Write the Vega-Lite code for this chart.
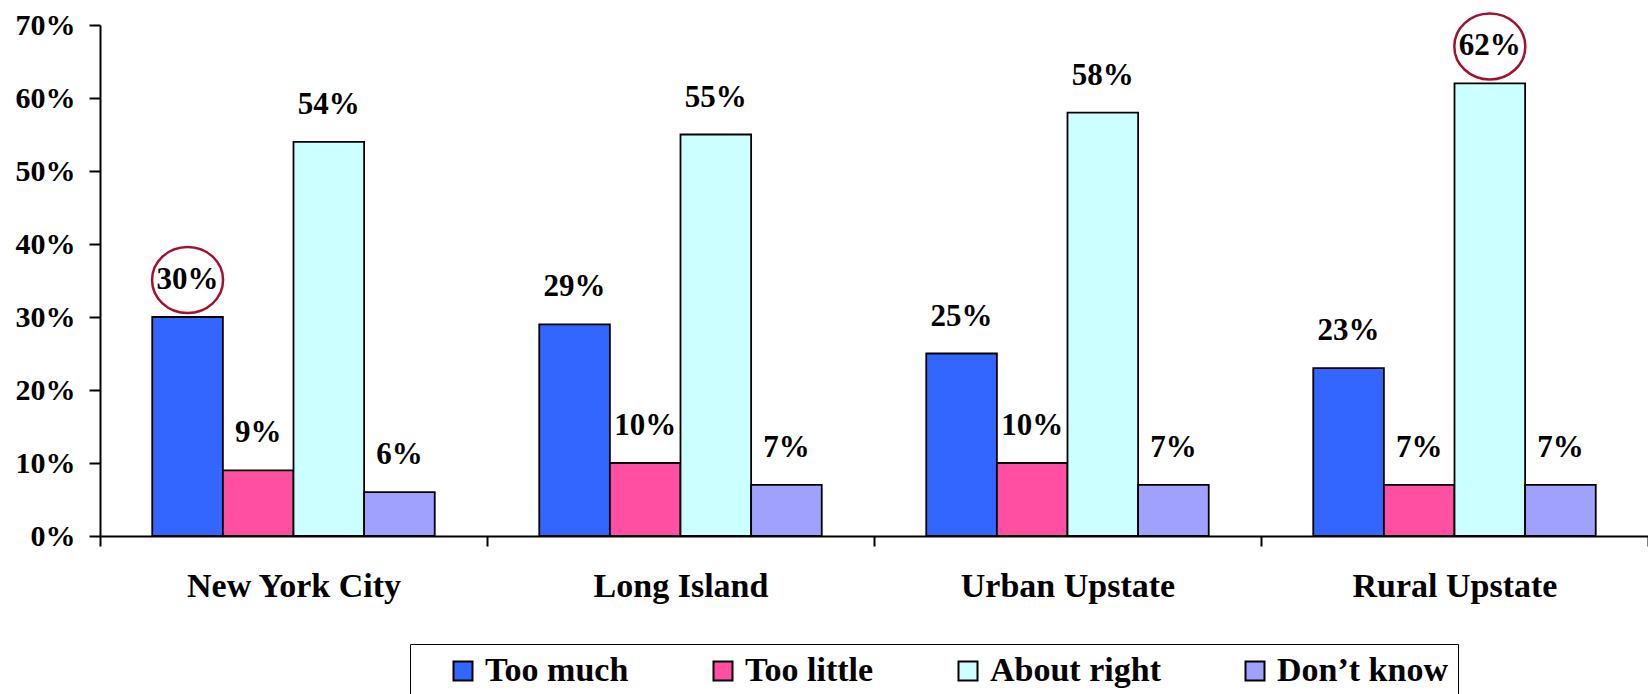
{
  "$schema": "https://vega.github.io/schema/vega-lite/v6.json",
  "width": 1548,
  "height": 511,
  "autosize": {"type": "none"},
  "padding": {"left": 100, "top": 25, "right": 0, "bottom": 158},
  "background": "white",
  "config": {"view": {"stroke": null}, "font": "Liberation Serif"},
  "data": {
    "values": [
      {"region": "New York City", "response": "Too much", "pct": 0.30, "highlight": true},
      {"region": "New York City", "response": "Too little", "pct": 0.09, "highlight": false},
      {"region": "New York City", "response": "About right", "pct": 0.54, "highlight": false},
      {"region": "New York City", "response": "Don’t know", "pct": 0.06, "highlight": false},
      {"region": "Long Island", "response": "Too much", "pct": 0.29, "highlight": false},
      {"region": "Long Island", "response": "Too little", "pct": 0.10, "highlight": false},
      {"region": "Long Island", "response": "About right", "pct": 0.55, "highlight": false},
      {"region": "Long Island", "response": "Don’t know", "pct": 0.07, "highlight": false},
      {"region": "Urban Upstate", "response": "Too much", "pct": 0.25, "highlight": false},
      {"region": "Urban Upstate", "response": "Too little", "pct": 0.10, "highlight": false},
      {"region": "Urban Upstate", "response": "About right", "pct": 0.58, "highlight": false},
      {"region": "Urban Upstate", "response": "Don’t know", "pct": 0.07, "highlight": false},
      {"region": "Rural Upstate", "response": "Too much", "pct": 0.23, "highlight": false},
      {"region": "Rural Upstate", "response": "Too little", "pct": 0.07, "highlight": false},
      {"region": "Rural Upstate", "response": "About right", "pct": 0.62, "highlight": true},
      {"region": "Rural Upstate", "response": "Don’t know", "pct": 0.07, "highlight": false}
    ]
  },
  "encoding": {
    "x": {
      "field": "region",
      "type": "nominal",
      "sort": ["New York City", "Long Island", "Urban Upstate", "Rural Upstate"],
      "scale": {"paddingInner": 0, "paddingOuter": 0},
      "axis": {
        "title": null,
        "labelAngle": 0,
        "labelFont": "Liberation Serif",
        "labelFontSize": 34,
        "labelFontWeight": "bold",
        "labelColor": "black",
        "labelPadding": 23,
        "labelLimit": 500,
        "tickBand": "extent",
        "tickSize": 10,
        "tickWidth": 2,
        "tickColor": "black",
        "domainColor": "black",
        "domainWidth": 2
      }
    },
    "xOffset": {
      "field": "response",
      "type": "nominal",
      "sort": ["Too much", "Too little", "About right", "Don’t know"],
      "scale": {"paddingInner": 0, "paddingOuter": 0.74}
    },
    "y": {
      "field": "pct",
      "type": "quantitative",
      "scale": {"domain": [0, 0.7], "nice": false},
      "axis": {
        "title": null,
        "values": [0, 0.1, 0.2, 0.3, 0.4, 0.5, 0.6, 0.7],
        "format": ".0%",
        "grid": false,
        "labelFont": "Liberation Serif",
        "labelFontSize": 30,
        "labelFontWeight": "bold",
        "labelColor": "black",
        "labelPadding": 14,
        "tickSize": 11,
        "tickWidth": 2,
        "tickColor": "black",
        "domainColor": "black",
        "domainWidth": 2
      }
    }
  },
  "layer": [
    {
      "mark": {"type": "bar", "stroke": "black", "strokeWidth": 1.8, "opacity": 1},
      "encoding": {
        "color": {
          "field": "response",
          "type": "nominal",
          "sort": ["Too much", "Too little", "About right", "Don’t know"],
          "scale": {
            "domain": ["Too much", "Too little", "About right", "Don’t know"],
            "range": ["#3366FF", "#FF4FA2", "#CCFFFF", "#A0A0FF"]
          },
          "legend": {
            "title": "\u00a0",
            "titleOrient": "left",
            "titleFontSize": 10,
            "titlePadding": 26,
            "orient": "none",
            "legendX": 310,
            "legendY": 619,
            "direction": "horizontal",
            "columns": 4,
            "padding": 10,
            "fillColor": "white",
            "strokeColor": "black",
            "symbolType": "square",
            "symbolSize": 361,
            "symbolStrokeColor": "black",
            "symbolStrokeWidth": 2,
            "symbolOpacity": 1,
            "labelFont": "Liberation Serif",
            "labelFontSize": 34,
            "labelFontWeight": "bold",
            "labelColor": "black",
            "labelOffset": 5,
            "labelLimit": 400,
            "columnPadding": 77
          }
        }
      }
    },
    {
      "mark": {
        "type": "text",
        "baseline": "alphabetic",
        "dy": -28,
        "font": "Liberation Serif",
        "fontSize": 31,
        "fontWeight": "bold",
        "color": "black"
      },
      "encoding": {
        "text": {"field": "pct", "type": "quantitative", "format": ".0%"}
      }
    },
    {
      "transform": [{"filter": "datum.highlight"}],
      "mark": {
        "type": "point",
        "shape": "M-1,0A1,0.93,0,1,1,1,0A1,0.93,0,1,1,-1,0Z",
        "size": 5041,
        "filled": false,
        "stroke": "#A3112E",
        "strokeWidth": 2.5,
        "opacity": 1,
        "yOffset": -37
      },
      "encoding": {}
    }
  ]
}
